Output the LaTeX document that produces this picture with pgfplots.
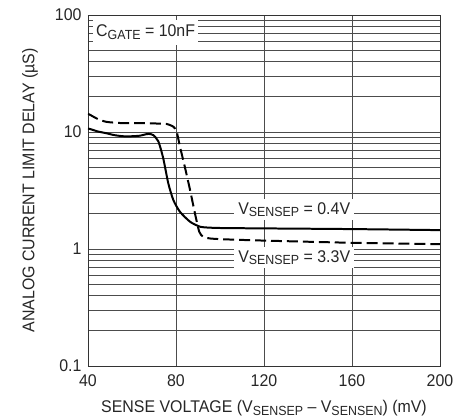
\documentclass[border=0pt]{standalone}
\usepackage{fontspec}
\setmainfont{Liberation Sans}[FakeStretch=0.94]
\usepackage{graphicx}
\usepackage{pgfplots}
\pgfplotsset{compat=1.18}
\usetikzlibrary{calc}
\newcommand\sub[1]{\raisebox{-0.3ex}{\scalebox{0.78}{#1}}}
\begin{document}
\begin{tikzpicture}
\begin{axis}[
  scale only axis, width=352bp, height=351bp,
  xmin=40, xmax=200, ymin=0.1, ymax=100,
  ymode=log, log basis y=10,
  xtick={40,80,120,160,200},
  ytick={0.1,1,10,100}, yticklabels={0.1,1,10,100},
  minor ytick={0.2,0.3,0.4,0.5,0.6,0.7,0.8,0.9,2,3,4,5,6,7,8,9,20,30,40,50,60,70,80,90},
  grid=both,
  major grid style={black!70, line width=0.6pt},
  minor grid style={black!70, line width=0.6pt},
  major tick length=0pt, minor tick length=0pt,
  axis line style={black!80, line width=1pt},
  tick label style={font=\fontsize{17}{17}\selectfont, black!85},
  yticklabel style={xshift=-3pt},
  xticklabel style={yshift=-5pt},
  /pgf/number format/assume math mode=true,
  xlabel={SENSE VOLTAGE (V\sub{SENSEP} – V\sub{SENSEN}) (mV)},
  ylabel={ANALOG CURRENT LIMIT DELAY (µS)},
  label style={font=\fontsize{17}{17}\selectfont, black!85},
  xlabel style={at={(axis description cs:0.5,-0.133)}, anchor=base, inner sep=0pt},
  ylabel style={at={(axis description cs:-0.1875,0.5)}, anchor=north, inner sep=0pt},
  clip=true,
]
\addplot[black, line width=2pt, smooth, tension=0.4] coordinates {
(40,10.7) (41,10.6) (44.5,10.1) (48.5,9.75) (52,9.4) (56,9.2) (60,9.2) (63.6,9.3) (66.7,9.6) (68.5,9.6) (69.7,9.4) (72,8.3) (74.2,5.96) (76.5,3.64) (78.8,2.62) (81.8,2.08) (86.4,1.71) (91,1.55) (96,1.52) (102,1.51) (120,1.50) (160,1.48) (200,1.45)
};
\addplot[black, line width=2pt, dash pattern=on 11pt off 5pt, smooth, tension=0.4] coordinates {
(40,14.3) (41,14.0) (44.5,12.9) (48.5,12.2) (56,11.9) (66,11.9) (72,11.8) (75.8,11.7) (78.8,11.1) (80.3,10.1) (81.8,7.5) (84,5.05) (86.4,3.19) (88.6,2.02) (90.6,1.4) (92.4,1.27) (95.5,1.23) (102,1.21) (120,1.18) (160,1.13) (200,1.10)
};
\node[fill=white, anchor=base west, inner xsep=3pt, inner ysep=5pt, font=\fontsize{17}{17}\selectfont, text=black!85] at (axis cs:42.3,64.9) {C\sub{GATE} = 10nF};
\node[fill=white, anchor=base west, inner xsep=4pt, inner ysep=3pt, font=\fontsize{17}{17}\selectfont, text=black!85] at (axis cs:106.4,1.99) {V\sub{SENSEP} = 0.4V};
\node[fill=white, anchor=base west, inner xsep=4pt, inner ysep=3pt, font=\fontsize{17}{17}\selectfont, text=black!85] at (axis cs:106.4,0.774) {V\sub{SENSEP} = 3.3V};
\end{axis}
\pgfresetboundingbox
\path[use as bounding box] ($(current axis.south west)+(-88bp,-53bp)$) rectangle ($(current axis.north east)+(15bp,15bp)$);
\end{tikzpicture}
\end{document}
